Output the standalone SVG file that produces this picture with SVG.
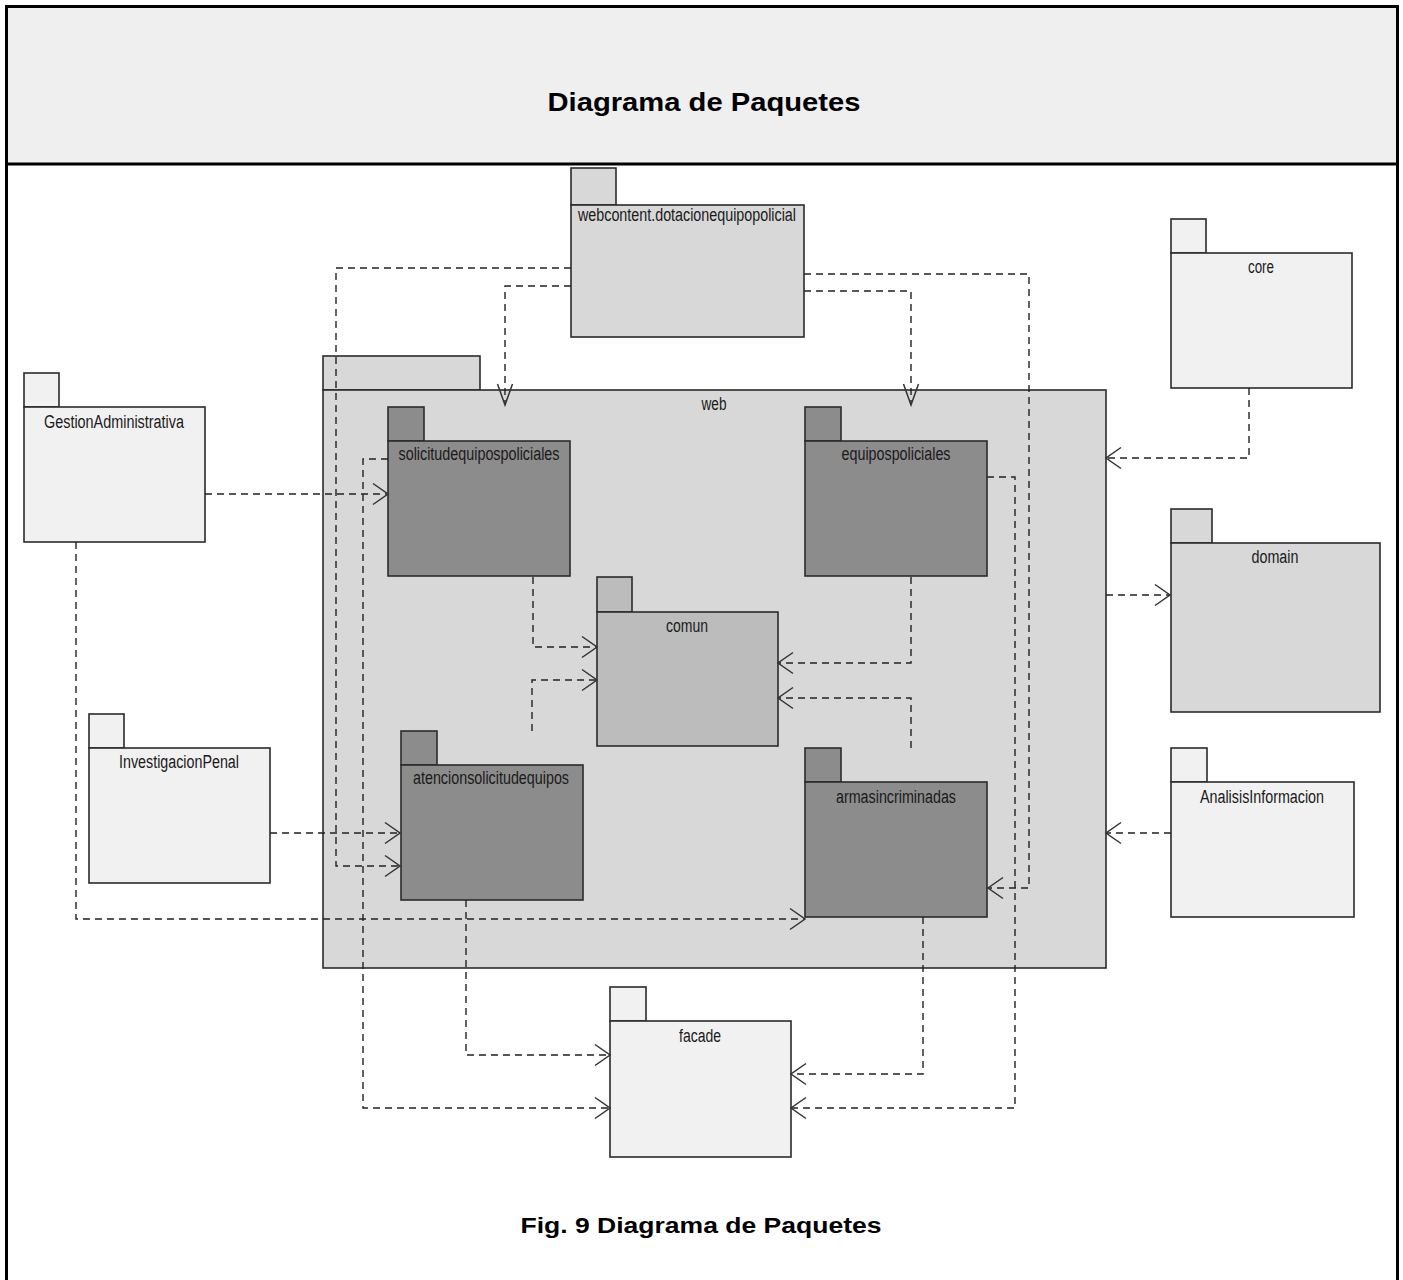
<svg xmlns="http://www.w3.org/2000/svg" width="1403" height="1280" viewBox="0 0 1403 1280">
<style>
.frame{fill:#ffffff;stroke:#000;stroke-width:3}
.hdr{fill:#efefef;stroke:#000;stroke-width:3}
.pk{stroke:#2b2b2b;stroke-width:1.6}
.light{fill:#f1f1f1}
.mid{fill:#d8d8d8}
.com{fill:#bcbcbc}
.dark{fill:#8c8c8c}
.lbl{font-family:"Liberation Sans Narrow","Liberation Sans",Arial,sans-serif;font-size:18px;fill:#1a1a1a;text-anchor:middle}
.ttl{font-family:"Liberation Sans",Arial,sans-serif;font-weight:bold;fill:#000;text-anchor:middle}
.dep{fill:none;stroke:#222;stroke-width:1.4;stroke-dasharray:7 5}
</style>
<defs>
<marker id="ah" markerUnits="userSpaceOnUse" markerWidth="30" markerHeight="30" refX="0" refY="0" orient="auto" overflow="visible">
<path d="M-15,-10.5 L0,0 L-15,10.5" fill="none" stroke="#333" stroke-width="1.5"/>
</marker>
<marker id="av" markerUnits="userSpaceOnUse" markerWidth="30" markerHeight="30" refX="0" refY="0" orient="auto" overflow="visible">
<path d="M-21,-7.5 L0,0 L-21,7.5" fill="none" stroke="#333" stroke-width="1.5"/>
</marker>
</defs>

<rect class="frame" x="6.5" y="6.5" width="1391" height="1280"/>
<rect class="hdr" x="6.5" y="6.5" width="1391" height="157.5"/>
<text class="ttl" x="704" y="111" font-size="25" textLength="313" lengthAdjust="spacingAndGlyphs">Diagrama de Paquetes</text>
<text class="ttl" x="701" y="1233" font-size="22" textLength="361" lengthAdjust="spacingAndGlyphs">Fig. 9 Diagrama de Paquetes</text>

<g id="web">
<rect class="pk mid" x="323" y="356" width="157" height="34"/>
<rect class="pk mid" x="323" y="390" width="783" height="578"/>
<text class="lbl" x="714" y="410" textLength="25" lengthAdjust="spacingAndGlyphs">web</text>
</g>

<g id="webcontent">
<rect class="pk mid" x="571" y="168" width="45" height="37"/>
<rect class="pk mid" x="571" y="205" width="233" height="132"/>
<text class="lbl" x="687" y="221" textLength="218" lengthAdjust="spacingAndGlyphs">webcontent.dotacionequipopolicial</text>
</g>

<g id="core">
<rect class="pk light" x="1171" y="219" width="35" height="34"/>
<rect class="pk light" x="1171" y="253" width="181" height="135"/>
<text class="lbl" x="1261" y="273" textLength="26" lengthAdjust="spacingAndGlyphs">core</text>
</g>

<g id="GestionAdministrativa">
<rect class="pk light" x="24" y="373" width="35" height="34"/>
<rect class="pk light" x="24" y="407" width="181" height="135"/>
<text class="lbl" x="114" y="428" textLength="140" lengthAdjust="spacingAndGlyphs">GestionAdministrativa</text>
</g>

<g id="solicitudequipospoliciales">
<rect class="pk dark" x="388" y="407" width="36" height="34"/>
<rect class="pk dark" x="388" y="441" width="182" height="135"/>
<text class="lbl" x="479" y="460" textLength="161" lengthAdjust="spacingAndGlyphs">solicitudequipospoliciales</text>
</g>

<g id="equipospoliciales">
<rect class="pk dark" x="805" y="407" width="36" height="34"/>
<rect class="pk dark" x="805" y="441" width="182" height="135"/>
<text class="lbl" x="896" y="460" textLength="109" lengthAdjust="spacingAndGlyphs">equipospoliciales</text>
</g>

<g id="comun">
<rect class="pk com" x="597" y="577" width="35" height="35"/>
<rect class="pk com" x="597" y="612" width="181" height="134"/>
<text class="lbl" x="687" y="632" textLength="42" lengthAdjust="spacingAndGlyphs">comun</text>
</g>

<g id="domain">
<rect class="pk mid" x="1171" y="509" width="41" height="34"/>
<rect class="pk mid" x="1171" y="543" width="209" height="169"/>
<text class="lbl" x="1275" y="563" textLength="47" lengthAdjust="spacingAndGlyphs">domain</text>
</g>

<g id="InvestigacionPenal">
<rect class="pk light" x="89" y="714" width="35" height="34"/>
<rect class="pk light" x="89" y="748" width="181" height="135"/>
<text class="lbl" x="179" y="768" textLength="120" lengthAdjust="spacingAndGlyphs">InvestigacionPenal</text>
</g>

<g id="atencionsolicitudequipos">
<rect class="pk dark" x="401" y="731" width="36" height="34"/>
<rect class="pk dark" x="401" y="765" width="182" height="135"/>
<text class="lbl" x="491" y="784" textLength="156" lengthAdjust="spacingAndGlyphs">atencionsolicitudequipos</text>
</g>

<g id="armasincriminadas">
<rect class="pk dark" x="805" y="748" width="36" height="34"/>
<rect class="pk dark" x="805" y="782" width="182" height="135"/>
<text class="lbl" x="896" y="803" textLength="120" lengthAdjust="spacingAndGlyphs">armasincriminadas</text>
</g>

<g id="AnalisisInformacion">
<rect class="pk light" x="1171" y="748" width="36" height="34"/>
<rect class="pk light" x="1171" y="782" width="183" height="135"/>
<text class="lbl" x="1262" y="803" textLength="124" lengthAdjust="spacingAndGlyphs">AnalisisInformacion</text>
</g>

<g id="facade">
<rect class="pk light" x="610" y="987" width="36" height="34"/>
<rect class="pk light" x="610" y="1021" width="181" height="136"/>
<text class="lbl" x="700" y="1042" textLength="42" lengthAdjust="spacingAndGlyphs">facade</text>
</g>

<g id="connectors">
<polyline class="dep" points="571,268 336,268 336,866 400,866" marker-end="url(#ah)"/>
<polyline class="dep" points="571,286 505,286 505,405" marker-end="url(#av)"/>
<polyline class="dep" points="804,291 911,291 911,405" marker-end="url(#av)"/>
<polyline class="dep" points="804,274 1029,274 1029,888 988,888" marker-end="url(#ah)"/>
<polyline class="dep" points="1249,388 1249,458 1106,458" marker-end="url(#ah)"/>
<polyline class="dep" points="1106,595 1170,595" marker-end="url(#ah)"/>
<polyline class="dep" points="1171,833 1106,833" marker-end="url(#ah)"/>
<polyline class="dep" points="205,494 388,494" marker-end="url(#ah)"/>
<polyline class="dep" points="76,542 76,919 805,919" marker-end="url(#ah)"/>
<polyline class="dep" points="270,833 400,833" marker-end="url(#ah)"/>
<polyline class="dep" points="388,459 363,459 363,1108 610,1108" marker-end="url(#ah)"/>
<polyline class="dep" points="533,577 533,647 597,647" marker-end="url(#ah)"/>
<polyline class="dep" points="532,731 532,680 597,680" marker-end="url(#ah)"/>
<polyline class="dep" points="911,577 911,663 778,663" marker-end="url(#ah)"/>
<polyline class="dep" points="911,748 911,698 778,698" marker-end="url(#ah)"/>
<polyline class="dep" points="987,477 1015,477 1015,1108 791,1108" marker-end="url(#ah)"/>
<polyline class="dep" points="466,900 466,1055 610,1055" marker-end="url(#ah)"/>
<polyline class="dep" points="923,917 923,1074 791,1074" marker-end="url(#ah)"/>
</g>
</svg>
